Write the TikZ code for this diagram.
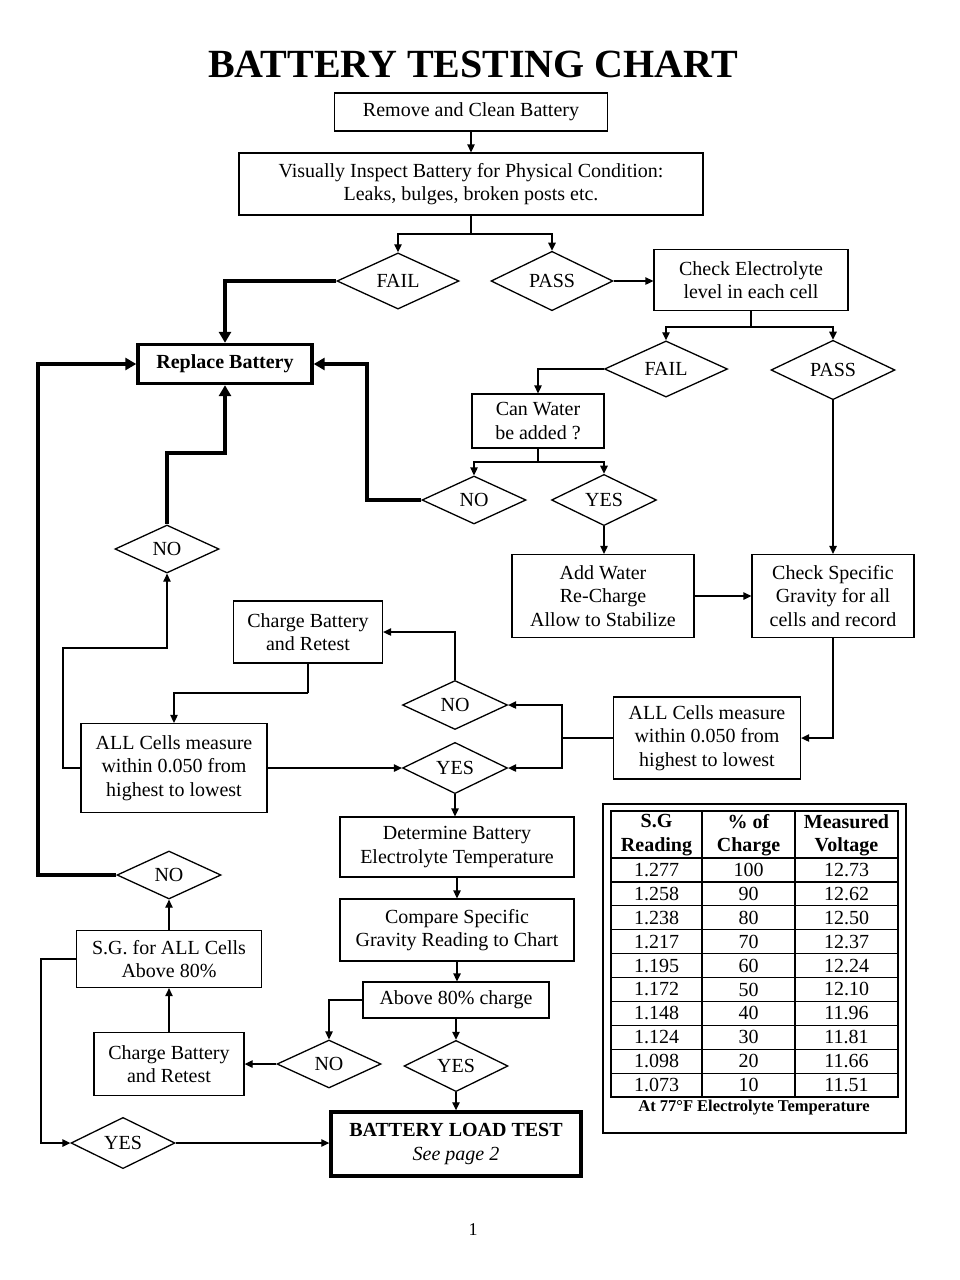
\documentclass[tikz,border=0pt]{standalone}
\usepackage{fontspec}
\setmainfont{Liberation Serif}
\usetikzlibrary{shapes.geometric,arrows.meta}

\begin{document}
\begin{tikzpicture}
  [x=1pt,y=-1pt,every node/.style={inner sep=0pt,align=center,font=\fontsize{20}{23.3}\selectfont},
   sz/.style 2 args={minimum width=#1pt,minimum height=#2pt}]
  \tikzstyle{box} = [draw,line width=1.3pt]
  \tikzstyle{heavy} = [draw,line width=3.4pt]
  \tikzstyle{dia} = [diamond,draw,line width=1.3pt]
  \tikzstyle{arr} = [line width=1.3pt,-{Triangle[length=8pt,width=7.5pt]}]
  \tikzstyle{bigarr} = [line width=4pt,-{Triangle[length=11pt,width=12pt]}]
  \useasboundingbox (0,0) rectangle (960,1280);
  \fill[white] (0,0) rectangle (960,1280);
  \node[font=\bfseries\fontsize{40}{44}\selectfont] (title) at (473,64) {BATTERY TESTING CHART};
  % top of the chart
  \node[box,sz={273}{38}] (remove) at (471,112) {Remove and Clean Battery};
  \node[box,sz={464}{62}] (inspect) at (471,184) {Visually Inspect Battery for Physical Condition:\\Leaks, bulges, broken posts etc.};
  \node[dia,sz={122}{53}] (fail1) at (398,281) {FAIL};
  \node[dia,sz={122}{53}] (pass1) at (552,281) {PASS};
  \node[box,sz={194}{61}] (checkel) at (751,280) {Check Electrolyte\\level in each cell};
  \node[heavy,sz={174}{39}] (replace) at (225,364) {\textbf{Replace Battery}};
  \node[dia,sz={123}{51}] (fail2) at (666,369) {FAIL};
  \node[dia,sz={124}{52}] (pass2) at (833,370) {PASS};
  \node[box,sz={132}{54}] (canwater) at (538,421) {Can Water\\be added ?};
  \node[dia,sz={104}{48}] (no1) at (474,500) {NO};
  \node[dia,sz={105}{48}] (yes1) at (604,500) {YES};
  \node[box,sz={182}{83}] (addwater) at (603,596) {Add Water\\Re-Charge\\Allow to Stabilize};
  \node[box,sz={162}{83}] (checksg) at (833,596) {Check Specific\\Gravity for all\\cells and record};
  % middle loop
  \node[dia,sz={104}{48}] (no2) at (167,549) {NO};
  \node[box,sz={149}{62}] (charge1) at (308,632) {Charge Battery\\and Retest};
  \node[dia,sz={105}{49}] (no3) at (455,705) {NO};
  \node[box,sz={186}{89}] (all1) at (174,768) {ALL Cells measure\\within 0.050 from\\highest to lowest};
  \node[dia,sz={105}{49}] (yes2) at (455,768) {YES};
  \node[box,sz={187}{82}] (all2) at (707,738) {ALL Cells measure\\within 0.050 from\\highest to lowest};
  % bottom part
  \node[box,sz={234}{60}] (determine) at (457,847) {Determine Battery\\Electrolyte Temperature};
  \node[box,sz={234}{62}] (compare) at (457,930) {Compare Specific\\Gravity Reading to Chart};
  \node[box,sz={186}{36}] (above) at (456,1000) {Above 80\% charge};
  \node[dia,sz={104}{48}] (no4) at (329,1064) {NO};
  \node[dia,sz={104}{47}] (yes3) at (456,1066) {YES};
  \node[heavy,sz={250}{64}] (load) at (456,1144) {\textbf{BATTERY LOAD TEST}\\\textit{See page 2}};
  \node[box,sz={150}{63}] (charge2) at (169,1064) {Charge Battery\\and Retest};
  \node[box,sz={185}{57}] (sg) at (169,959) {S.G. for ALL Cells\\Above 80\%};
  \node[dia,sz={104}{48}] (no5) at (169,875) {NO};
  \node[dia,sz={104}{49}] (yes4) at (123,1143) {YES};
  % turning points
  \coordinate (b1) at (471,234);
  \coordinate (b2) at (751,327);
  \coordinate (b3) at (538,462);
  \coordinate (k1) at (367,364);
  \coordinate (k2) at (225,453);
  \coordinate (k3) at (38,364);
  \coordinate (k4) at (63,648);
  \coordinate (k5) at (308,693);
  \coordinate (k6) at (562,738);
  \coordinate (k7) at (41,1143);
  % straight arrows, down or up
  \foreach \source /\dest in {remove.south/inspect.north,pass2.south/checksg.north,yes1.south/addwater.north,
      yes2.south/determine.north,determine.south/compare.north,compare.south/above.north,
      above.south/yes3.north,yes3.south/load.north,charge2.north/sg.south,sg.north/no5.south}
   \draw[arr] (\source) -- (\source |- \dest);
  % straight arrows, sideways
  \foreach \source /\dest in {pass1.east/checkel.west,addwater.east/checksg.west,all1.east/yes2.west,
      no4.west/charge2.east,yes4.east/load.west}
   \draw[arr] (\source) -- (\source -| \dest);
  % branches
  \draw[line width=1.3pt] (inspect.south) -- (b1);
  \draw[arr] (b1) -| (fail1.north);
  \draw[arr] (b1) -| (pass1.north);
  \draw[line width=1.3pt] (checkel.south) -- (b2);
  \draw[arr] (b2) -| (fail2.north);
  \draw[arr] (b2) -| (pass2.north);
  \draw[arr] (fail2.west) -| (canwater.north);
  \draw[line width=1.3pt] (canwater.south) -- (b3);
  \draw[arr] (b3) -| (no1.north);
  \draw[arr] (b3) -| (yes1.north);
  \draw[arr] (all1.west) -| (k4) -| (no2.south);
  \draw[line width=1.3pt] (charge1.south) -- (k5);
  \draw[arr] (k5) -| (all1.north);
  \draw[arr] (no3.north) |- (charge1.east);
  \draw[line width=1.3pt] (all2.west) -- (k6);
  \draw[arr] (k6) |- (no3.east);
  \draw[arr] (k6) |- (yes2.east);
  \draw[arr] (checksg.south) |- (all2.east);
  \draw[arr] (above.west) -| (no4.north);
  \draw[arr] (sg.west) -| (k7) -- (yes4.west);
  % to replace battery
  \draw[bigarr] (fail1.west) -| (replace.north);
  \draw[bigarr] (no1.west) -| (k1) -- (replace.east);
  \draw[bigarr] (no2.north) |- (k2) -- (replace.south);
  \draw[bigarr] (no5.west) -| (k3) -- (replace.west);
  % chart
  \draw[line width=1.3pt] (603,804) rectangle (906,1133);
  \draw[line width=1.5pt] (611,811) rectangle (898,1097);
  \draw[line width=1.5pt] (702,811) -- (702,1097) (795,811) -- (795,1097);
  \foreach \r in {0,...,9}
   \draw[line width=1.2pt] (611,{858+23.9*\r}) -- (898,{858+23.9*\r});
  \node[font=\bfseries\fontsize{20}{23.3}\selectfont] (hsg) at (656.5,835) {S.G\\Reading};
  \node[font=\bfseries\fontsize{20}{23.3}\selectfont] (hpc) at (748.5,835) {\% of\\Charge};
  \node[font=\bfseries\fontsize{20}{23.3}\selectfont] (hvolt) at (846.5,835) {Measured\\Voltage};
  \foreach \sg /\pc /\volt [count=\i] in {1.277/100/12.73,1.258/90/12.62,1.238/80/12.50,1.217/70/12.37,
      1.195/60/12.24,1.172/50/12.10,1.148/40/11.96,1.124/30/11.81,1.098/20/11.66,1.073/10/11.51}
  {
   \node (sg\i) at (656.5,{858+23.9*(\i-0.5)}) {\sg};
   \node (pc\i) at (748.5,{858+23.9*(\i-0.5)}) {\pc};
   \node (volt\i) at (846.5,{858+23.9*(\i-0.5)}) {\volt};
  }
  \node[font=\bfseries\fontsize{16.5}{19}\selectfont] (note) at (754,1108) {At 77°F Electrolyte Temperature};
  \node[font=\fontsize{18}{21}\selectfont] (pagenum) at (473,1230) {1};
\end{tikzpicture}
\end{document}
